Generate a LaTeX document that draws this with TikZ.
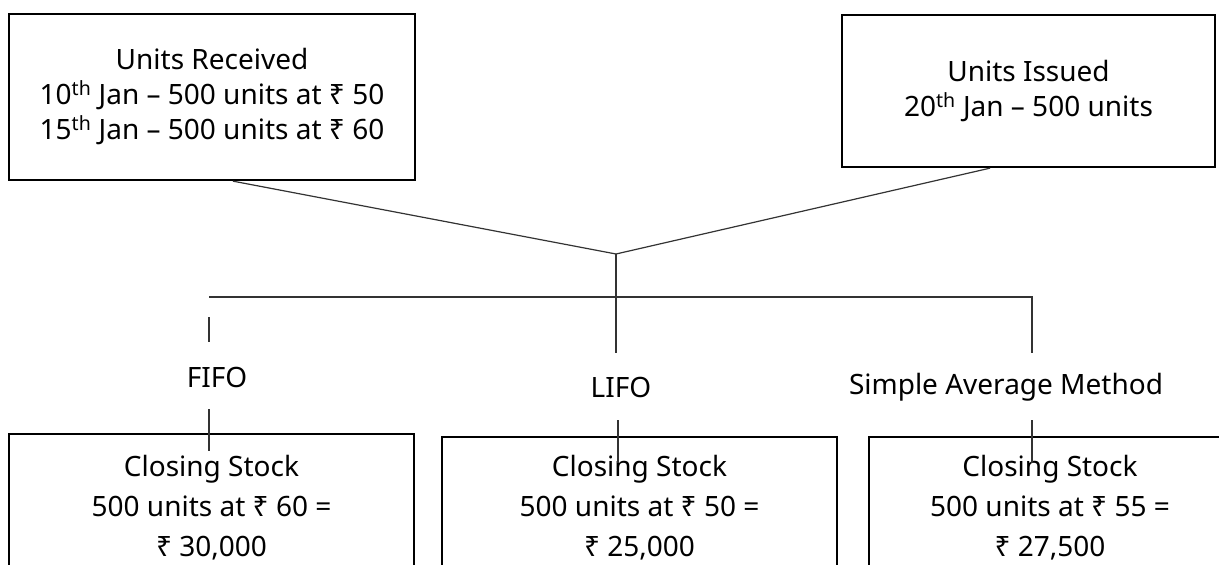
\documentclass[tikz,border=0pt]{standalone}
\usepackage{fontspec}
\setmainfont{Noto Sans}
\usepackage{xcolor}
\usepackage{tikz}

\begin{document}
\begin{tikzpicture}[x=1pt,y=-1pt]
			\tikzstyle{box} = [draw, line width=2.3pt, align=center, inner sep=0pt]
			\tikzstyle{topbox} = [box, font=\fontsize{28}{35}\selectfont]
			\tikzstyle{stockbox} = [box, font=\fontsize{28}{40}\selectfont]
			\tikzstyle{method} = [inner sep=0pt, font=\fontsize{28}{34}\selectfont]
			\tikzset{edge/.style = {-, line width=1.2pt, draw=black!80}}
			
			\clip (0,0) rectangle (1219,565);
			
			\node[topbox, minimum width=406, minimum height=166](received) at (212,97) {Units Received\\10\textsuperscript{th} Jan -- 500 units at ₹ 50\\15\textsuperscript{th} Jan -- 500 units at ₹ 60};
			\node[topbox, minimum width=373, minimum height=152](issued) at (1028.5,91) {Units Issued\\20\textsuperscript{th} Jan -- 500 units};
			
			\coordinate (join) at (616,254);
			\draw[edge]([xshift=21]received.south) to (join);
			\draw[edge]([xshift=-38.5]issued.south) to (join);
			
			\coordinate (barL) at (209,297);
			\coordinate (barR) at (1032,297);
			\coordinate (lifoTop) at (616,353);
			\coordinate (avgTop) at (1032,353);
			\draw[edge](join) to (lifoTop);
			\draw[edge](barL) to (barR) to (avgTop);
			
			\node[method](fifo) at (217,377) {FIFO};
			\node[method](lifo) at (621,387) {LIFO};
			\node[method](avg) at (1006,387) {Simple Average Method};
			
			\coordinate (fifoA) at (209,317);
			\coordinate (fifoB) at (209,342);
			\draw[edge](fifoA) to (fifoB);
			
			\node[stockbox, minimum width=405, minimum height=148](fifoStock) at (211.5,508) {Closing Stock\\500 units at ₹ 60 =\\₹ 30,000};
			\node[stockbox, minimum width=395, minimum height=142](lifoStock) at (639.5,508) {Closing Stock\\500 units at ₹ 50 =\\₹ 25,000};
			\node[stockbox, minimum width=362, minimum height=142](avgStock) at (1050,508) {Closing Stock\\500 units at ₹ 55 =\\₹ 27,500};
			
			\coordinate (fifoC) at (209,409);
			\coordinate (fifoD) at (209,451);
			\coordinate (lifoC) at (618,420);
			\coordinate (lifoD) at (618,463);
			\coordinate (avgC) at (1032,420);
			\coordinate (avgD) at (1032,463);
			\draw[edge](fifoC) to (fifoD);
			\draw[edge](lifoC) to (lifoD);
			\draw[edge](avgC) to (avgD);
			
\end{tikzpicture}
\end{document}
